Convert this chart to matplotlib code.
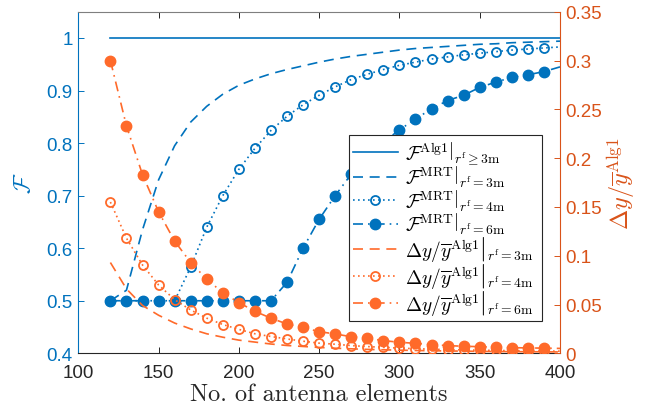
import matplotlib
matplotlib.use("Agg")
import matplotlib.pyplot as plt
from matplotlib.ticker import FixedLocator, FuncFormatter

plt.rcParams['mathtext.fontset'] = 'cm'
plt.rcParams['font.family'] = ['Liberation Sans', 'DejaVu Sans']

# Number of antenna elements
n_elements = [120, 130, 140, 150, 160, 170, 180, 190, 200, 210, 220, 230, 240, 250,
              260, 270, 280, 290, 300, 310, 320, 330, 340, 350, 360, 370, 380, 390, 400]

# Fidelity (left axis)
f_alg1 = [1.0, 1.0, 1.0, 1.0, 1.0, 1.0, 1.0, 1.0, 1.0, 1.0, 1.0, 1.0, 1.0, 1.0,
          1.0, 1.0, 1.0, 1.0, 1.0, 1.0, 1.0, 1.0, 1.0, 1.0, 1.0, 1.0, 1.0, 1.0, 1.0]
f_mrt_3m = [0.50, 0.52, 0.635, 0.73, 0.795, 0.84, 0.87, 0.893, 0.91, 0.922, 0.932, 0.94,
            0.947, 0.954, 0.96, 0.965, 0.969, 0.973, 0.977, 0.980, 0.982, 0.984, 0.986,
            0.988, 0.989, 0.991, 0.992, 0.993, 0.994]
f_mrt_4m = [0.5, 0.5, 0.5, 0.5, 0.5, 0.564, 0.64, 0.70, 0.75, 0.79, 0.824, 0.851, 0.873,
            0.891, 0.907, 0.921, 0.931, 0.940, 0.948, 0.954, 0.960, 0.964, 0.968, 0.971,
            0.974, 0.977, 0.979, 0.981, 0.983]
f_mrt_6m = [0.5, 0.5, 0.5, 0.5, 0.5, 0.5, 0.5, 0.5, 0.5, 0.5, 0.5, 0.535, 0.60, 0.655,
            0.70, 0.741, 0.775, 0.802, 0.825, 0.846, 0.865, 0.881, 0.891, 0.906, 0.916,
            0.925, 0.930, 0.936, 0.945]

# Relative deviation (right axis)
dy_3m = [0.093, 0.066, 0.049, 0.039, 0.031, 0.025, 0.020, 0.0165, 0.0135, 0.0115, 0.0095,
         0.008, 0.007, 0.006, 0.0052, 0.0046, 0.004, 0.0036, 0.0032, 0.0029, 0.0026,
         0.0024, 0.0022, 0.002, 0.0018, 0.0017, 0.0016, 0.0015, 0.0014]
dy_4m = [0.155, 0.118, 0.0905, 0.070, 0.055, 0.0444, 0.036, 0.0295, 0.0245, 0.020, 0.0172,
         0.0147, 0.0124, 0.0104, 0.0093, 0.0079, 0.0069, 0.0061, 0.0053, 0.0047, 0.0042,
         0.0038, 0.0035, 0.0032, 0.0029, 0.0027, 0.0025, 0.0023, 0.0022]
dy_6m = [0.30, 0.233, 0.183, 0.145, 0.115, 0.093, 0.076, 0.062, 0.052, 0.043, 0.036, 0.030,
         0.0265, 0.0222, 0.0198, 0.017, 0.0154, 0.013, 0.0113, 0.0102, 0.0089, 0.0079,
         0.0072, 0.0068, 0.0062, 0.0058, 0.0055, 0.0053, 0.0050]

x_ticks = [100, 150, 200, 250, 300, 350, 400]
left_ticks = [0.4, 0.5, 0.6, 0.7, 0.8, 0.9, 1.0]
right_ticks = [0, 0.05, 0.1, 0.15, 0.2, 0.25, 0.3, 0.35]

BLUE = '#0072BD'
ORANGE = '#FF6A2A'
ORANGE_AX = '#D95319'
DARK = '#262626'

fig = plt.figure(figsize=(6.48, 4.14), dpi=100)
ax = fig.add_axes([0.1208, 0.1442, 0.7434, 0.8251])
ax2 = ax.twinx()

lw = 1.2
mark = slice(0, -1)
h1, = ax.plot(n_elements, f_alg1, '-', color=BLUE, lw=lw)
h2, = ax.plot(n_elements, f_mrt_3m, color=BLUE, lw=lw, linestyle=(0, (6, 4)))
h3, = ax.plot(n_elements, f_mrt_4m, color=BLUE, lw=lw, linestyle=(0, (1, 2)),
              marker='o', ms=6.5, mfc='none', mew=1.3, markevery=mark)
h4, = ax.plot(n_elements, f_mrt_6m, color=BLUE, lw=lw, linestyle=(0, (6, 3, 1, 3)),
              marker='o', ms=7.5, mfc=BLUE, mec=BLUE, markevery=mark)

h5, = ax2.plot(n_elements, dy_3m, color=ORANGE, lw=lw, linestyle=(0, (6, 4)))
h6, = ax2.plot(n_elements, dy_4m, color=ORANGE, lw=lw, linestyle=(0, (1, 2)),
               marker='o', ms=6.5, mfc='none', mew=1.3, markevery=mark)
h7, = ax2.plot(n_elements, dy_6m, color=ORANGE, lw=lw, linestyle=(0, (6, 3, 1, 3)),
               marker='o', ms=7.5, mfc=ORANGE, mec=ORANGE, markevery=mark)

ax.set_xlim(100, 400)
ax.set_ylim(0.4, 1.05)
ax2.set_ylim(0, 0.35)

fs = 13.5
ax.xaxis.set_major_locator(FixedLocator(x_ticks))
ax.yaxis.set_major_locator(FixedLocator(left_ticks))
ax2.yaxis.set_major_locator(FixedLocator(right_ticks))
fmt = FuncFormatter(lambda v, p: f'{v:g}')
ax.yaxis.set_major_formatter(fmt)
ax2.yaxis.set_major_formatter(fmt)
ax.xaxis.set_major_formatter(fmt)

ax.tick_params(axis='x', direction='in', top=True, length=4, width=0.7,
               colors=DARK, labelsize=fs, pad=8)
ax.tick_params(axis='y', direction='in', length=4, width=0.7, colors=BLUE,
               labelsize=fs, pad=4)
ax2.tick_params(axis='y', direction='in', length=4, width=0.7, colors=ORANGE_AX,
                labelsize=fs, pad=4)

for s in ['left', 'right', 'top', 'bottom']:
    ax.spines[s].set_linewidth(0.8)
    ax2.spines[s].set_linewidth(0.8)
ax.spines['left'].set_color(BLUE)
ax.spines['right'].set_visible(False)
ax.spines['top'].set_color('#7f7f7f')
ax.spines['bottom'].set_color(DARK)
ax2.spines['left'].set_visible(False)
ax2.spines['top'].set_visible(False)
ax2.spines['bottom'].set_visible(False)
ax2.spines['right'].set_color(ORANGE_AX)

ax.set_xlabel('No. of antenna elements', family='cmr10', fontsize=17.5, color=DARK,
              labelpad=1)
ax.set_ylabel(r'$\mathcal{F}$', color=BLUE, fontsize=17, labelpad=8)
ax2.set_ylabel(r'$\Delta y/\overline{y}^{\mathrm{Alg1}}$', color=ORANGE_AX, fontsize=17.5,
               labelpad=2)

labels = [
    r'$\left.\mathcal{F}^{\mathrm{Alg1}}\right|_{r^{\mathrm{f}}\geq 3\mathrm{m}}$',
    r'$\left.\mathcal{F}^{\mathrm{MRT}}\right|_{r^{\mathrm{f}}=3\mathrm{m}}$',
    r'$\left.\mathcal{F}^{\mathrm{MRT}}\right|_{r^{\mathrm{f}}=4\mathrm{m}}$',
    r'$\left.\mathcal{F}^{\mathrm{MRT}}\right|_{r^{\mathrm{f}}=6\mathrm{m}}$',
    r'$\left.\Delta y/\overline{y}^{\mathrm{Alg1}}\right|_{r^{\mathrm{f}}=3\mathrm{m}}$',
    r'$\left.\Delta y/\overline{y}^{\mathrm{Alg1}}\right|_{r^{\mathrm{f}}=4\mathrm{m}}$',
    r'$\left.\Delta y/\overline{y}^{\mathrm{Alg1}}\right|_{r^{\mathrm{f}}=6\mathrm{m}}$',
]
leg = ax2.legend([h1, h2, h3, h4, h5, h6, h7], labels, loc='lower left',
                 bbox_to_anchor=(0.562, 0.0946, 0.401, 0.556), mode='expand',
                 fontsize=14, frameon=True, fancybox=False, framealpha=1,
                 edgecolor=DARK, handlelength=2.3, handletextpad=0.4,
                 borderpad=0.2, labelspacing=-0.1, borderaxespad=0,
                 markerscale=1.0)
leg.get_frame().set_linewidth(0.8)

fig.savefig('out.png', dpi=100)
